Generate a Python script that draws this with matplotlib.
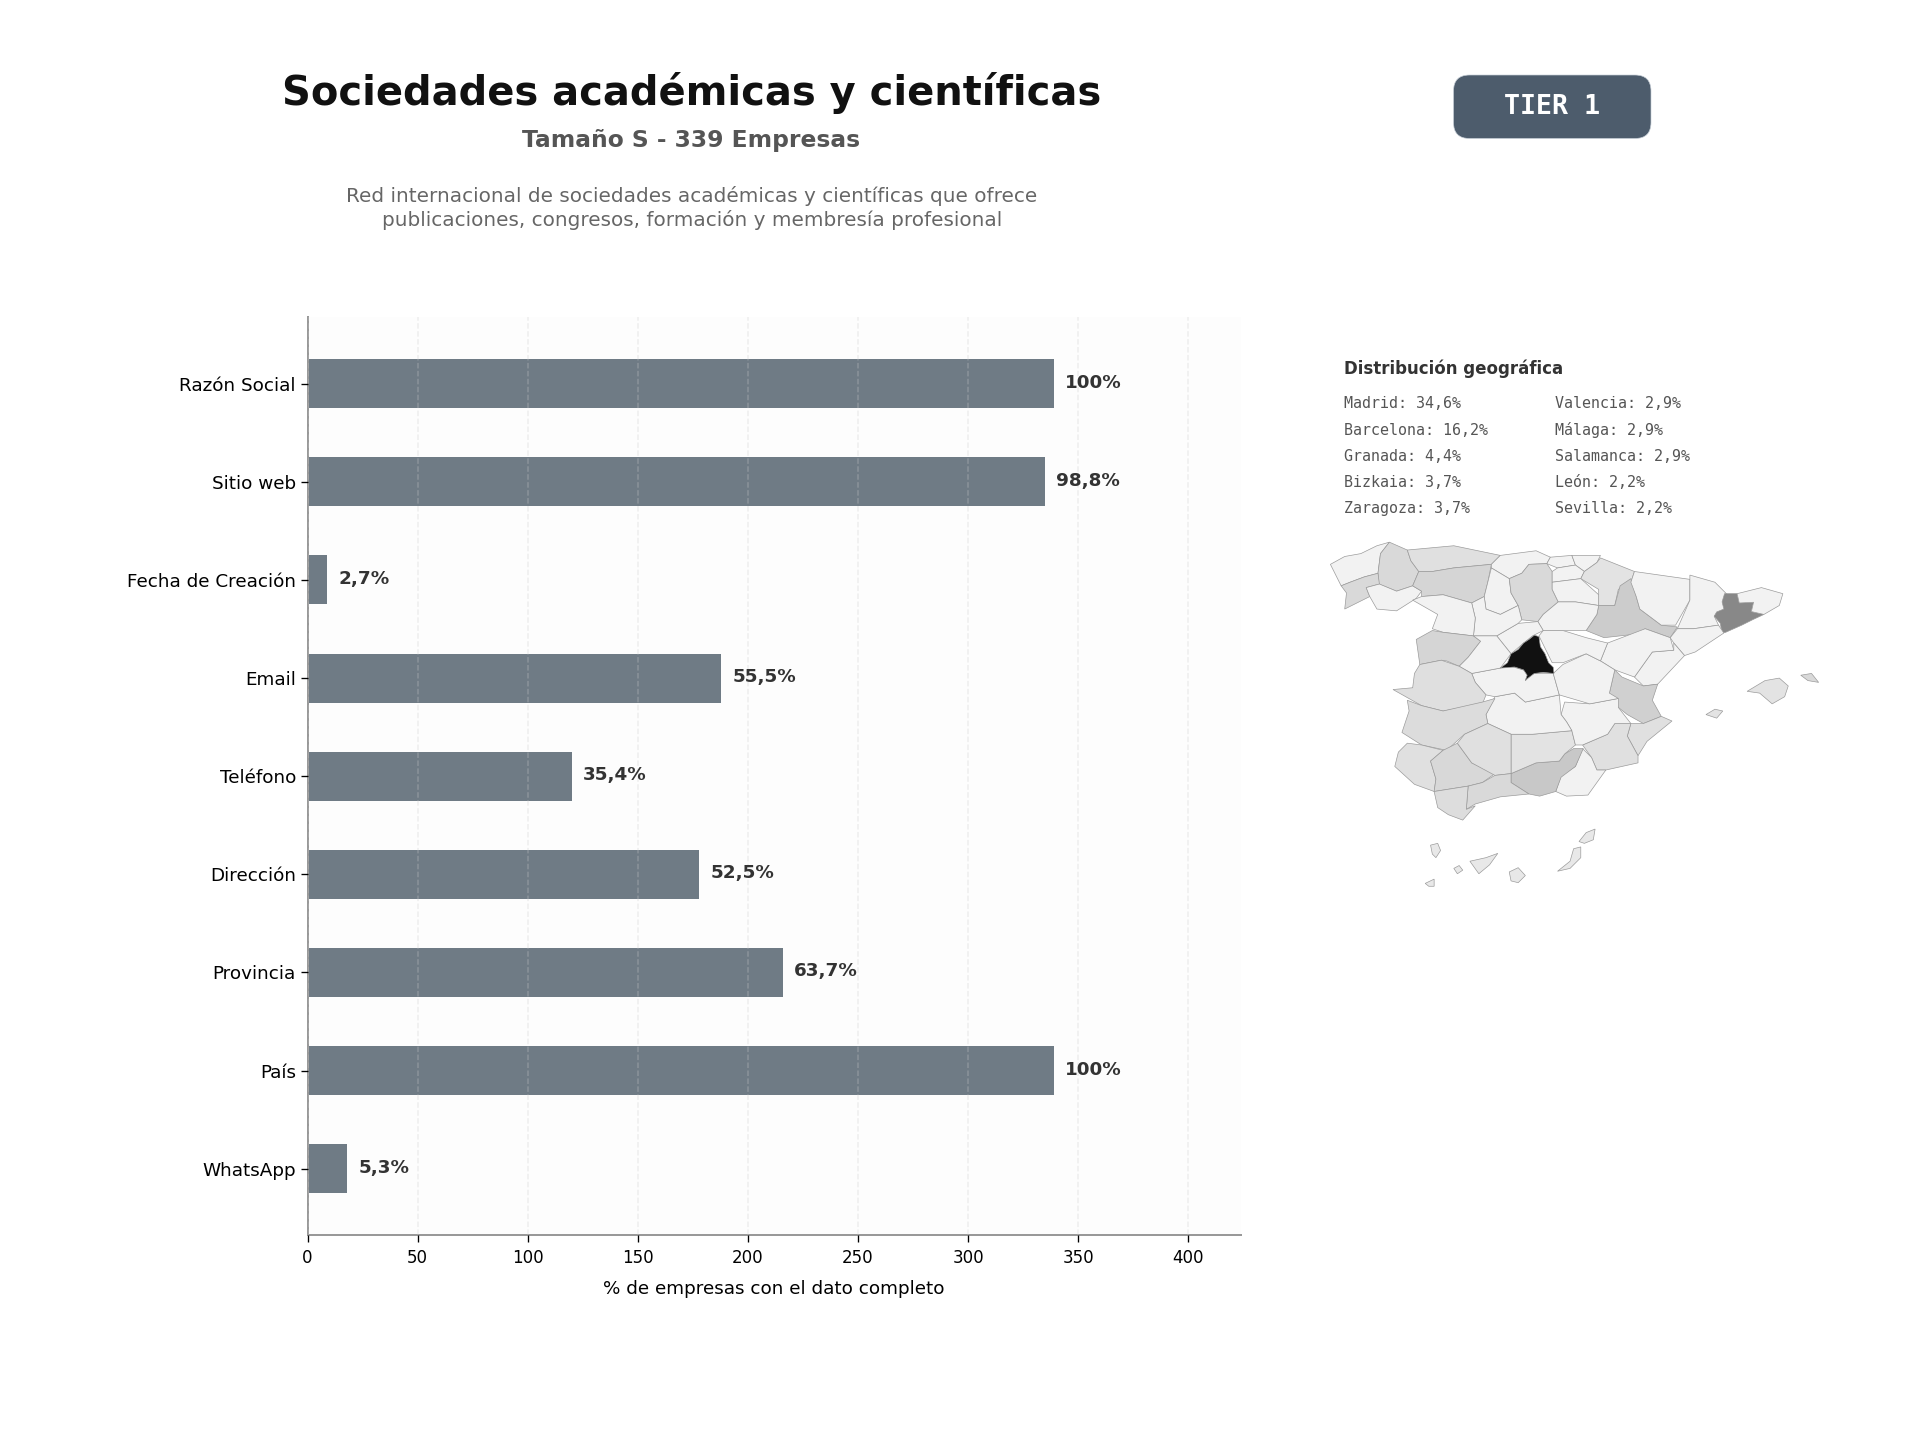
import matplotlib
matplotlib.use("Agg")
import matplotlib.pyplot as plt
from matplotlib.patches import FancyBboxPatch, Polygon

W, H = 1920, 1440
categories = ["Razón Social", "Sitio web", "Fecha de Creación", "Email", "Teléfono",
              "Dirección", "Provincia", "País", "WhatsApp"]
counts = [339, 335, 9, 188, 120, 178, 216, 339, 18]
pct_labels = ["100%", "98,8%", "2,7%", "55,5%", "35,4%", "52,5%", "63,7%", "100%", "5,3%"]
geo_left = ["Madrid: 34,6%", "Barcelona: 16,2%", "Granada: 4,4%", "Bizkaia: 3,7%", "Zaragoza: 3,7%"]
geo_right = ["Valencia: 2,9%", "Málaga: 2,9%", "Salamanca: 2,9%", "León: 2,2%", "Sevilla: 2,2%"]

# Province outlines: (grey shade, outline)
provinces = [
 ("#f2f2f2", [(85,630),(125,608),(170,600),(215,578),(250,568),(225,600),(218,655),(180,665),(140,680),(115,690),(95,650)]),
 ("#d9d9d9", [(250,568),(300,590),(310,620),(332,650),(315,690),(270,705),(220,685),(218,655),(225,600)]),
 ("#d9d9d9", [(115,690),(140,680),(180,665),(218,655),(222,685),(185,695),(195,720),(125,755),(130,710)]),
 ("#f2f2f2", [(185,695),(222,685),(270,705),(315,690),(340,705),(325,725),(270,760),(215,755),(195,720)]),
 ("#e0e0e0", [(300,590),(430,578),(560,605),(535,630),(430,640),(370,650),(332,650),(310,620)]),
 ("#d5d5d5", [(332,650),(370,650),(430,640),(535,630),(525,680),(515,720),(480,738),(400,715),(340,720),(340,705),(315,690)]),
 ("#f2f2f2", [(560,605),(660,592),(700,610),(690,628),(640,630),(620,655),(585,670),(535,640),(535,630)]),
 ("#f2f2f2", [(535,640),(585,670),(590,710),(610,745),(560,770),(520,755),(515,720),(525,680)]),
 ("#d9d9d9", [(585,670),(620,655),(640,630),(690,628),(705,650),(705,700),(722,735),(680,770),(665,790),(620,785),(610,745),(590,710)]),
 ("#f2f2f2", [(700,610),(760,605),(770,632),(720,640),(690,628)]),
 ("#f2f2f2", [(760,605),(840,605),(830,625),(795,650),(770,632)]),
 ("#f2f2f2", [(705,650),(720,640),(770,632),(795,650),(785,670),(705,680)]),
 ("#e3e3e3", [(795,650),(830,625),(840,612),(935,650),(925,680),(890,700),(880,745),(835,745),(835,700),(785,670)]),
 ("#f2f2f2", [(705,680),(785,670),(835,715),(835,745),(770,735),(722,735),(705,700)]),
 ("#cccccc", [(880,745),(895,690),(925,670),(940,720),(950,755),(1010,800),(1055,805),(1035,835),(965,810),(940,825),(850,835),(800,815),(830,770),(835,745)]),
 ("#f2f2f2", [(935,650),(1090,672),(1090,730),(1050,800),(1010,800),(950,755),(940,720),(925,680)]),
 ("#f2f2f2", [(1090,660),(1160,680),(1195,715),(1185,760),(1158,775),(1170,800),(1100,810),(1055,810),(1090,730)]),
 ("#888888", [(1187,712),(1222,712),(1228,738),(1268,736),(1262,762),(1297,770),(1265,785),(1235,800),(1190,820),(1180,822),(1175,795),(1158,775),(1165,763),(1185,755),(1180,735)]),
 ("#f2f2f2", [(1222,712),(1290,695),(1350,712),(1340,745),(1297,770),(1262,762),(1268,736),(1228,738)]),
 ("#f2f2f2", [(1055,810),(1100,810),(1170,800),(1185,822),(1105,875),(1075,885),(1045,850),(1035,835)]),
 ("#f2f2f2", [(1045,850),(1075,885),(1000,965),(960,970),(935,945),(985,875),(1045,870)]),
 ("#f2f2f2", [(860,850),(965,810),(1035,835),(1045,870),(985,875),(935,945),(880,925),(840,900)]),
 ("#d0d0d0", [(880,925),(900,945),(960,970),(1000,965),(985,1010),(1010,1055),(960,1075),(915,1050),(890,1030),(865,990)]),
 ("#e0e0e0", [(925,1075),(960,1075),(1010,1055),(1040,1068),(970,1125),(945,1165),(915,1110)]),
 ("#e0e0e0", [(790,1135),(860,1105),(880,1075),(925,1075),(915,1110),(945,1165),(945,1185),(855,1205),(830,1205),(815,1170)]),
 ("#f2f2f2", [(790,1145),(815,1170),(830,1205),(855,1205),(805,1275),(745,1278),(715,1265),(730,1220),(770,1195)]),
 ("#c8c8c8", [(740,1160),(765,1145),(792,1145),(770,1195),(730,1225),(715,1265),(670,1278),(640,1272),(590,1240),(590,1215),(660,1185),(725,1180)]),
 ("#e3e3e3", [(590,1105),(650,1105),(760,1095),(770,1135),(740,1160),(725,1180),(660,1185),(590,1215),(590,1160)]),
 ("#f2f2f2", [(740,1015),(810,1020),(890,1005),(890,1030),(925,1075),(880,1075),(860,1105),(790,1135),(770,1135),(760,1095),(745,1070),(730,1050)]),
 ("#f2f2f2", [(545,1000),(600,990),(630,1015),(725,995),(730,1050),(745,1070),(760,1095),(650,1105),(590,1105),(525,1075),(520,1050)]),
 ("#f2f2f2", [(480,935),(560,920),(590,915),(640,930),(630,955),(650,935),(708,935),(725,995),(630,1015),(600,990),(545,1000),(520,995),(490,960)]),
 ("#f2f2f2", [(735,910),(800,880),(840,900),(880,925),(865,990),(890,1005),(810,1020),(725,995),(708,935)]),
 ("#f2f2f2", [(680,815),(735,815),(800,835),(860,850),(840,900),(800,880),(735,905),(705,905),(668,830)]),
 ("#f2f2f2", [(665,790),(680,770),(722,735),(770,735),(835,745),(830,770),(800,815),(735,815),(680,815)]),
 ("#f2f2f2", [(550,830),(610,795),(665,790),(680,815),(650,830),(625,850),(590,880)]),
 ("#f2f2f2", [(480,738),(515,720),(520,755),(560,770),(610,745),(620,785),(610,795),(550,830),(485,830),(490,780)]),
 ("#f2f2f2", [(315,730),(340,720),(400,715),(480,738),(490,780),(485,830),(400,820),(370,810),(385,770)]),
 ("#d5d5d5", [(325,840),(370,815),(400,820),(485,830),(505,845),(470,890),(445,915),(410,900),(395,898),(335,910)]),
 ("#f2f2f2", [(485,830),(550,830),(590,880),(560,920),(480,935),(445,915),(470,890),(505,845)]),
 ("#dfdfdf", [(335,910),(395,898),(445,915),(480,935),(490,960),(520,995),(510,1020),(400,1040),(340,1025),(260,980),(315,975),(320,935)]),
 ("#dcdcdc", [(300,1010),(340,1025),(400,1040),(510,1015),(545,1005),(520,1050),(525,1075),(460,1105),(410,1150),(340,1135),(285,1100),(305,1040)]),
 ("#e0e0e0", [(300,1130),(340,1135),(400,1150),(365,1180),(380,1230),(375,1265),(320,1245),(265,1195),(275,1155)]),
 ("#d8d8d8", [(400,1150),(440,1130),(480,1185),(545,1215),(510,1240),(470,1250),(375,1265),(380,1230),(365,1180)]),
 ("#e0e0e0", [(460,1105),(525,1075),(590,1105),(590,1215),(545,1220),(480,1185),(440,1130)]),
 ("#d9d9d9", [(470,1250),(510,1240),(545,1220),(590,1215),(590,1240),(640,1272),(560,1280),(490,1300),(465,1315)]),
 ("#dddddd", [(375,1265),(470,1250),(465,1315),(490,1305),(455,1345),(415,1330),(385,1310)]),
 ("#111111", [(655,828),(668,832),(672,860),(685,880),(695,905),(708,918),(710,935),(680,932),(655,935),(635,950),(630,955),(635,940),(625,925),(600,917),(560,920),(580,905),(590,880),(610,868),(625,850),(640,840)]),
 ("#e3e3e3", [(1250,985),(1300,955),(1340,948),(1365,970),(1355,1000),(1320,1020),(1285,990)]),
 ("#d9d9d9", [(1400,940),(1430,935),(1450,960),(1420,955)]),
 ("#e3e3e3", [(1135,1050),(1160,1035),(1182,1040),(1165,1060)]),
 ("#e8e8e8", [(365,1415),(385,1410),(393,1430),(380,1450),(370,1440)]),
 ("#e8e8e8", [(430,1480),(445,1472),(455,1485),(440,1495)]),
 ("#e8e8e8", [(475,1460),(520,1450),(553,1438),(530,1470),(500,1495)]),
 ("#e8e8e8", [(585,1490),(610,1478),(630,1500),(610,1520),(590,1515)]),
 ("#e8e8e8", [(720,1488),(755,1460),(765,1425),(785,1420),(785,1450),(755,1480)]),
 ("#e8e8e8", [(780,1405),(800,1380),(825,1370),(820,1400),(795,1410)]),
 ("#e8e8e8", [(350,1522),(375,1510),(375,1530),(360,1530)]),
]

def fx(px): return px / W
def fy(py): return 1 - py / H

fig = plt.figure(figsize=(16, 12), dpi=120, facecolor="white")

ax = fig.add_axes([fx(307.6), fy(1235), (1240.5 - 307.6) / W, (1235 - 317.4) / H])
ax.set_facecolor("#fdfdfd")
ax.barh(categories, counts, height=0.5, color="#6f7b85", zorder=2)
ax.invert_yaxis()
ax.set_xlim(0, 423.75)
ax.set_xticks(range(0, 401, 50))
ax.grid(axis="x", linestyle="--", color="#cccccc", alpha=0.3, linewidth=0.9, zorder=3)
ax.set_axisbelow(False)
for s in ("top", "right"):
    ax.spines[s].set_visible(False)
for s in ("left", "bottom"):
    ax.spines[s].set_color("#999999")
    ax.spines[s].set_linewidth(1.2)
ax.tick_params(axis="y", labelsize=11, length=4, pad=3)
ax.tick_params(axis="x", labelsize=10, length=4, pad=4.5)
ax.set_xlabel("% de empresas con el dato completo", fontsize=11, labelpad=8)
for i, (v, t) in enumerate(zip(counts, pct_labels)):
    ax.text(v + 5, i - 0.01, t, va="center", ha="left", fontsize=11, fontweight="bold", color="#333333")

fig.text(fx(692), fy(93), "Sociedades académicas y científicas", ha="center", va="center",
         fontsize=24, fontweight="bold", color="#111111")
fig.text(fx(691), fy(141), "Tamaño S - 339 Empresas", ha="center", va="center",
         fontsize=14, fontweight="bold", color="#555555")
fig.text(fx(692), fy(208.5), "Red internacional de sociedades académicas y científicas que ofrece\npublicaciones, congresos, formación y membresía profesional",
         ha="center", va="center", fontsize=12, color="#666666", linespacing=1.25)

bg = fig.add_axes([0, 0, 1, 1], zorder=-1)
bg.set_xlim(0, W); bg.set_ylim(H, 0); bg.axis("off")
bg.add_patch(FancyBboxPatch((1453.5 + 16, 75 + 16), 197.5 - 32, 63.5 - 32, boxstyle="round,pad=16,rounding_size=16",
                            facecolor="#4d5c6c", edgecolor="#c8d0d8", linewidth=0.4))
fig.text(fx(1552), fy(106.5), "TIER 1", ha="center", va="center", fontsize=16, fontweight="bold",
         family="DejaVu Sans Mono", color="white")

fig.text(fx(1344), fy(369), "Distribución geográfica", ha="left", va="center", fontsize=10,
         fontweight="bold", color="#333333")
for i, (a, b) in enumerate(zip(geo_left, geo_right)):
    y = 404 + i * 26.2
    fig.text(fx(1344), fy(y), a, ha="left", va="center", fontsize=9, family="DejaVu Sans Mono", color="#555555")
    fig.text(fx(1555), fy(y), b, ha="left", va="center", fontsize=9, family="DejaVu Sans Mono", color="#555555")

mp = fig.add_axes([fx(1300), fy(339 + 558), 558 / W, 558 / H])
mp.set_xlim(0, 1560); mp.set_ylim(1560, 0); mp.axis("off")
for shade, outline in provinces:
    mp.add_patch(Polygon(outline, closed=True, facecolor=shade, edgecolor="#999999", linewidth=0.4))

fig.savefig("out.png", dpi=120)
